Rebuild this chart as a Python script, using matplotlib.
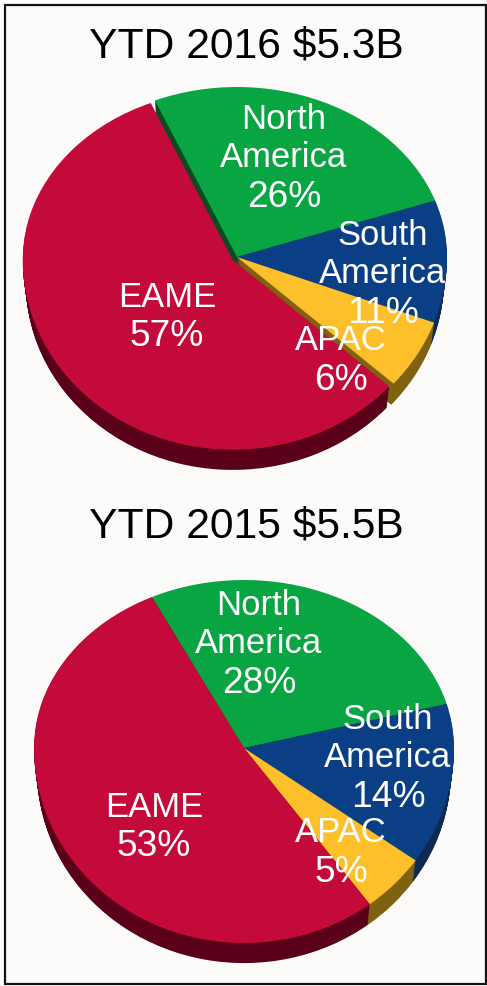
import numpy as np
import matplotlib
matplotlib.use('Agg')
import matplotlib.pyplot as plt
import matplotlib.patches as patches

WIDTH = 487
HEIGHT = 986

regions = ['North America', 'South America', 'APAC', 'EAME']
values_2016 = [26, 11, 6, 57]
values_2015 = [28, 14, 5, 53]
title_2016 = 'YTD 2016 $5.3B'
title_2015 = 'YTD 2015 $5.5B'

top_colors = ['#0aa543', '#0a3f86', '#fdc02a', '#c40a3a']
side_colors = ['#0b4a22', '#0d2a55', '#7f6210', '#5a0018']

plt.rcParams['font.family'] = ['Liberation Sans', 'DejaVu Sans']

fig = plt.figure(figsize=(WIDTH / 100, HEIGHT / 100), dpi=100, facecolor='white')

# pixel coordinates for frame and texts, y going down like in the picture
overlay = fig.add_axes([0, 0, 1, 1], zorder=5)
overlay.set_xlim(0, WIDTH)
overlay.set_ylim(HEIGHT, 0)
overlay.axis('off')
overlay.patch.set_alpha(0)

back = fig.add_axes([0, 0, 1, 1], zorder=0)
back.set_xlim(0, WIDTH)
back.set_ylim(HEIGHT, 0)
back.axis('off')
back.add_patch(patches.Rectangle((5, 5), 481, 979, facecolor='#fcfbf9', edgecolor='#111111', lw=1.6))


def draw_pie(values, cx, cy, rx, up, down, depth, start, explode):
    ax = fig.add_axes([0, 0, 1, 1], zorder=2)
    ax.patch.set_alpha(0)

    # side of the disc first, lower layers a bit smaller for the perspective
    for shift in np.arange(depth, 0, -1.0):
        ax.pie(values, colors=side_colors, startangle=start, counterclock=False,
               center=(0, -shift / down), explode=explode,
               radius=1 - 0.015 * shift / depth,
               wedgeprops={'linewidth': 0})
    ax.pie(values, colors=top_colors, startangle=start, counterclock=False,
           explode=explode, wedgeprops={'linewidth': 0})

    # the pie centre sits above the middle of the ellipse, so stretch more below
    def forward(y):
        y = np.asarray(y, dtype=float)
        return np.where(y > 0, y * up, y * down)

    def inverse(y):
        y = np.asarray(y, dtype=float)
        return np.where(y > 0, y / up, y / down)

    ax.set_aspect('auto')
    ax.set_yscale('function', functions=(forward, inverse))
    ax.set_xlim(-cx / rx, (WIDTH - cx) / rx)
    ax.set_ylim(-(HEIGHT - cy) / down, cy / up)
    ax.axis('off')


def label(x, y, region, value):
    # one text per line, the percentages are set a little larger
    words = region.split()
    for i, word in enumerate(words):
        overlay.text(x, y + i * 38, word, ha='center', va='baseline', color='white', fontsize=24.9)
    overlay.text(x, y + len(words) * 38.5 + 1, f'{value}%', ha='center', va='baseline',
                 color='white', fontsize=26.7)


draw_pie(values_2016, 237, 257, 210, 170, 190, 23, 113, (0, 0, 0, 0.025))
draw_pie(values_2015, 244, 748, 210, 168, 195, 23, 116, (0, 0, 0, 0))

overlay.text(246, 57, title_2016, ha='center', va='baseline', color='black', fontsize=30.7)
overlay.text(246, 538, title_2015, ha='center', va='baseline', color='black', fontsize=30.7)

label(284, 129, regions[0], values_2016[0])
label(383, 245, regions[1], values_2016[1])
label(341, 350, regions[2], values_2016[2])
label(167, 307, regions[3], values_2016[3])

label(259, 615, regions[0], values_2015[0])
label(388, 729, regions[1], values_2015[1])
label(341, 842, regions[2], values_2015[2])
label(154, 817, regions[3], values_2015[3])

fig.savefig('out.png', dpi=100)
plt.close(fig)
